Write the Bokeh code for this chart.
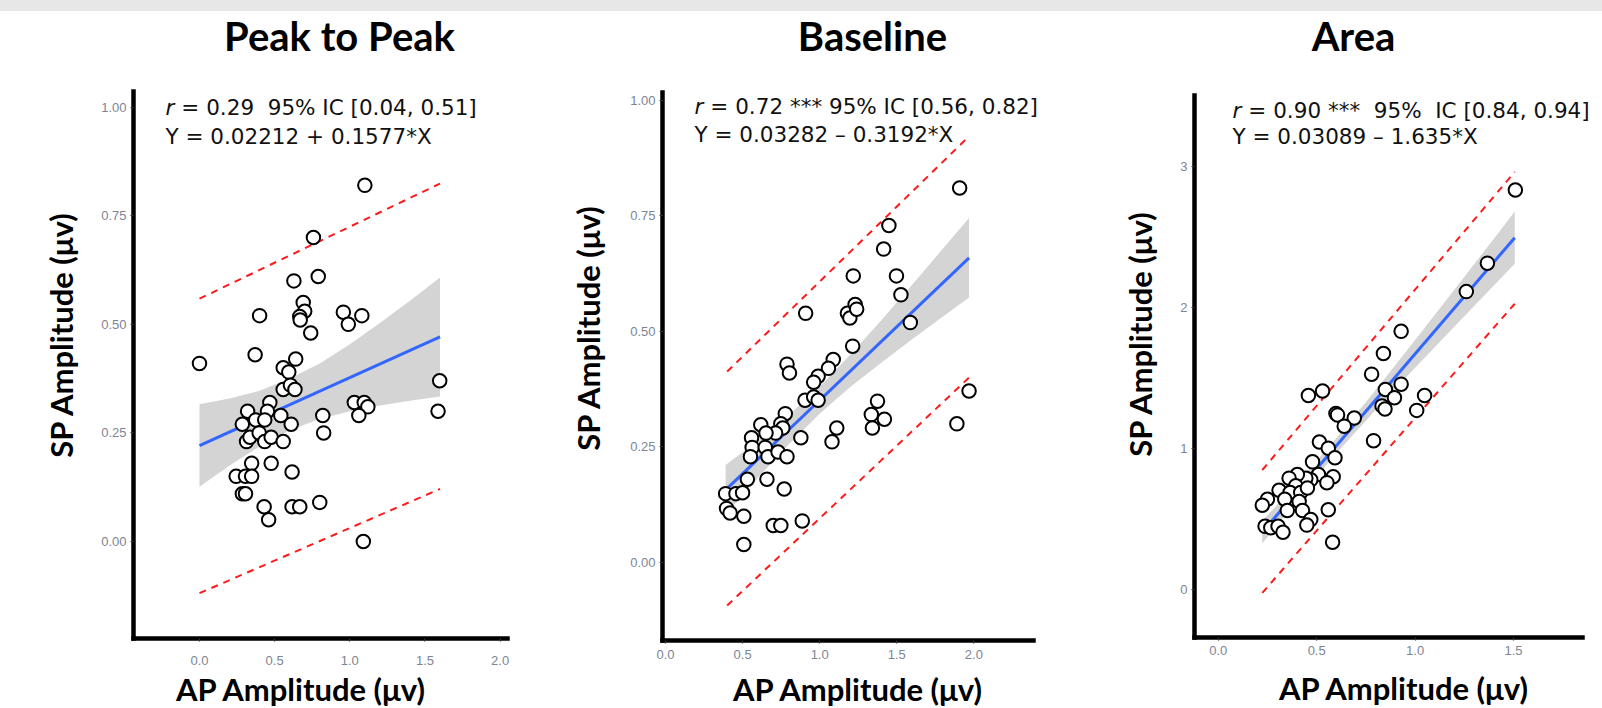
import math
from bokeh.plotting import figure
from bokeh.layouts import row, column
from bokeh.models import Range1d, Label, FixedTicker, PrintfTickFormatter, Div
from bokeh.embed import file_html
from bokeh.resources import INLINE

# ---------------- data ----------------
titles = ["Peak to Peak", "Baseline", "Area"]
x_title = "AP Amplitude (\u03bcv)"
y_title = "SP Amplitude (\u03bcv)"

# Peak to Peak
pp_ap = [0.0, 1.10, 0.758, 0.79, 0.628, 0.40, 0.69, 0.70, 0.667, 0.67, 0.74, 0.957, 0.99, 1.08,
         0.37, 0.557, 0.594, 0.64, 0.557, 0.605, 0.635, 1.598, 1.587, 1.03, 1.096, 1.12, 1.06,
         0.82, 0.826, 0.468, 0.452, 0.32, 0.285, 0.374, 0.434, 0.541, 0.61, 0.313, 0.336, 0.397,
         0.434, 0.477, 0.557, 0.347, 0.477, 0.616, 0.244, 0.306, 0.347, 0.285, 0.306, 0.43, 0.46,
         0.616, 0.667, 0.80, 1.09]
pp_sp = [0.41, 0.82, 0.70, 0.61, 0.60, 0.52, 0.55, 0.53, 0.518, 0.51, 0.48, 0.528, 0.50, 0.52,
         0.43, 0.40, 0.39, 0.42, 0.35, 0.36, 0.35, 0.37, 0.30, 0.32, 0.32, 0.31, 0.29,
         0.29, 0.25, 0.32, 0.30, 0.30, 0.27, 0.28, 0.28, 0.29, 0.27, 0.23, 0.24, 0.25,
         0.23, 0.24, 0.23, 0.18, 0.18, 0.16, 0.15, 0.15, 0.15, 0.11, 0.11, 0.08, 0.05,
         0.08, 0.08, 0.09, 0.00]
pp_fit_x = [0.0, 1.6]
pp_fit_y = [0.221, 0.471]
pp_band_x = [0.0, 0.2, 0.4, 0.6, 0.8, 1.0, 1.2, 1.4, 1.6]
pp_band_hi = [0.316, 0.329, 0.347, 0.375, 0.410, 0.454, 0.503, 0.554, 0.608]
pp_band_lo = [0.126, 0.175, 0.219, 0.256, 0.282, 0.300, 0.313, 0.324, 0.334]
pp_pi_x = [0.0, 1.6]
pp_pi_hi = [0.559, 0.824]
pp_pi_lo = [-0.119, 0.121]

# Baseline
bl_ap = [1.908, 1.449, 1.415, 1.218, 1.498, 1.527, 1.588, 0.909, 1.18, 1.196, 1.23, 1.24, 1.214,
         1.088, 1.057, 0.99, 0.961, 0.905, 0.961, 0.99, 0.788, 0.804, 1.969, 1.89, 1.375, 1.335,
         1.42, 1.342, 1.111, 1.08, 0.878, 0.618, 0.777, 0.748, 0.761, 0.714, 0.652, 0.558, 0.562,
         0.551, 0.647, 0.665, 0.73, 0.788, 0.531, 0.658, 0.77, 0.39, 0.457, 0.50, 0.396, 0.419,
         0.508, 0.699, 0.748, 0.887, 0.508]
bl_sp = [0.81, 0.729, 0.678, 0.62, 0.62, 0.579, 0.519, 0.539, 0.539, 0.529, 0.558, 0.548, 0.468,
         0.439, 0.42, 0.403, 0.39, 0.351, 0.358, 0.351, 0.429, 0.41, 0.371, 0.30, 0.349, 0.32,
         0.31, 0.291, 0.291, 0.261, 0.27, 0.298, 0.322, 0.30, 0.291, 0.28, 0.28, 0.27, 0.249,
         0.229, 0.249, 0.229, 0.239, 0.229, 0.18, 0.18, 0.159, 0.149, 0.149, 0.151, 0.117, 0.107,
         0.10, 0.08, 0.08, 0.09, 0.039]
bl_fit_x = [0.39, 1.969]
bl_fit_y = [0.157, 0.659]
bl_band_x = [0.39, 0.6, 0.8, 1.0, 1.2, 1.4, 1.6, 1.8, 1.969]
bl_band_hi = [0.211, 0.264, 0.319, 0.380, 0.450, 0.524, 0.601, 0.679, 0.745]
bl_band_lo = [0.104, 0.184, 0.256, 0.322, 0.380, 0.432, 0.483, 0.532, 0.573]
bl_pi_x = [0.40, 1.969]
bl_pi_hi = [0.413, 0.922]
bl_pi_lo = [-0.093, 0.400]

# Area
ar_ap = [1.509, 1.367, 1.26, 0.929, 0.839, 0.779, 0.929, 0.849, 0.895, 1.048, 0.832, 0.847, 1.008,
         0.458, 0.53, 0.598, 0.606, 0.691, 0.64, 0.789, 0.514, 0.559, 0.593, 0.479, 0.509, 0.584,
         0.552, 0.47, 0.445, 0.402, 0.36, 0.394, 0.309, 0.365, 0.419, 0.453, 0.25, 0.224, 0.338,
         0.411, 0.351, 0.428, 0.559, 0.47, 0.45, 0.238, 0.267, 0.304, 0.329, 0.581]
ar_sp = [2.833, 2.314, 2.112, 1.83, 1.673, 1.526, 1.455, 1.417, 1.359, 1.375, 1.301, 1.279, 1.269,
         1.375, 1.407, 1.247, 1.237, 1.215, 1.157, 1.054, 1.045, 1.0, 0.933, 0.904, 0.814, 0.798,
         0.756, 0.776, 0.788, 0.814, 0.788, 0.734, 0.702, 0.686, 0.686, 0.718, 0.638, 0.596, 0.638,
         0.622, 0.558, 0.558, 0.564, 0.494, 0.455, 0.446, 0.436, 0.446, 0.404, 0.333]
ar_fit_x = [0.224, 1.506]
ar_fit_y = [0.405, 2.495]
ar_band_x = [0.224, 0.4, 0.6, 0.8, 1.0, 1.2, 1.4, 1.506]
ar_band_hi = [0.485, 0.751, 1.071, 1.414, 1.769, 2.127, 2.488, 2.680]
ar_band_lo = [0.325, 0.633, 0.965, 1.274, 1.572, 1.865, 2.156, 2.310]
ar_pi_x = [0.224, 1.506]
ar_pi_hi = [0.846, 2.962]
ar_pi_lo = [-0.026, 2.026]

stats_r = [" = 0.29  95% IC [0.04, 0.51]",
           " = 0.72 *** 95% IC [0.56, 0.82]",
           " = 0.90 ***  95%  IC [0.84, 0.94]"]
stats_eq = ["Y = 0.02212 + 0.1577*X",
            "Y = 0.03282 \u2013 0.3192*X",
            "Y = 0.03089 \u2013 1.635*X"]

x_ticks = [[0, 0.5, 1.0, 1.5, 2.0], [0, 0.5, 1.0, 1.5, 2.0], [0, 0.5, 1.0, 1.5]]
y_ticks = [[0, 0.25, 0.5, 0.75, 1.0], [0, 0.25, 0.5, 0.75, 1.0], [0, 1, 2, 3]]
y_fmt = ["%.2f", "%.2f", "%d"]

# ---------------- layout (page pixels) ----------------
PAGE_W, PAGE_H = 1602, 708
BAND = 11                     # grey strip at the top of the page
H = PAGE_H - BAND             # figure canvas height
PANELS = [
    dict(cx0=0, cx1=540, left=133, top=91, w=374, h=547,
         xr=(-0.439, 2.049), yr=(-0.2233, 1.036),
         title_c=339, title_b=50, xl_c=300, xl_b=700, yl_c=(60, 335),
         ann=(165, 115, 143.3), xstand=14),
    dict(cx0=540, cx1=1075, left=662, top=92, w=371, h=548,
         xr=(-0.0195, 2.387), yr=(-0.1687, 1.0167),
         title_c=872, title_b=50, xl_c=857, xl_b=700, yl_c=(587, 328),
         ann=(694, 114, 141.7), xstand=6),
    dict(cx0=1075, cx1=1602, left=1194, top=95, w=388, h=542,
         xr=(-0.1204, 1.850), yr=(-0.343, 3.504),
         title_c=1353, title_b=50, xl_c=1403, xl_b=699, yl_c=(1139, 334),
         ann=(1232, 117.3, 143.3), xstand=5),
]
BASE_SHIFT = 0.36   # label anchor sits this many font sizes above the drawn baseline

series = [
    (pp_ap, pp_sp, pp_fit_x, pp_fit_y, pp_band_x, pp_band_hi, pp_band_lo, pp_pi_x, pp_pi_hi, pp_pi_lo),
    (bl_ap, bl_sp, bl_fit_x, bl_fit_y, bl_band_x, bl_band_hi, bl_band_lo, bl_pi_x, bl_pi_hi, bl_pi_lo),
    (ar_ap, ar_sp, ar_fit_x, ar_fit_y, ar_band_x, ar_band_hi, ar_band_lo, ar_pi_x, ar_pi_hi, ar_pi_lo),
]


def nb(s):
    return s.replace(" ", "\u00a0")


TICK_COLOR = "#7d8595"
TITLE_FS, AXT_FS, ANN_FS = 40, 31, 21.5
figs = []
for i, P in enumerate(PANELS):
    ap, sp, fx, fy, bx, bhi, blo, pix, pihi, pilo = series[i]
    x0, x1 = P["xr"]
    y0, y1 = P["yr"]
    ux = (x1 - x0) / P["w"]
    uy = (y1 - y0) / P["h"]
    right = P["left"] + P["w"]
    bottom = P["top"] + P["h"]
    xs = x0 - (P["left"] - P["cx0"]) * ux
    xe = x1 + (P["cx1"] - right) * ux
    ys = y0 - (PAGE_H - bottom) * uy
    ye = y1 + (P["top"] - BAND) * uy

    def to_data(px, py, xs=xs, ye=ye, ux=ux, uy=uy, cx0=P["cx0"]):
        return xs + (px - cx0) * ux, ye - (py - BAND) * uy

    p = figure(width=P["cx1"] - P["cx0"], height=H, min_border=0,
               x_range=Range1d(xs, xe), y_range=Range1d(ys, ye),
               output_backend="svg", toolbar_location=None, tools="")
    p.margin = 0
    p.title.visible = False
    p.outline_line_color = None
    p.background_fill_color = "white"
    p.border_fill_color = "white"
    p.xgrid.visible = False
    p.ygrid.visible = False

    for ax in (p.xaxis[0], p.yaxis[0]):
        ax.axis_line_width = 4.5
        ax.axis_line_color = "black"
        ax.axis_line_cap = "square"
        ax.major_tick_line_color = "#333333"
        ax.major_tick_line_width = 1.2
        ax.major_tick_out = 3
        ax.major_tick_in = 0
        ax.minor_tick_line_color = None
        ax.major_label_text_font = "Liberation Sans"
        ax.major_label_text_font_size = "13px"
        ax.major_label_text_color = TICK_COLOR
    p.xaxis.fixed_location = y0
    p.xaxis.bounds = (x0, x1)
    p.yaxis.fixed_location = x0
    p.yaxis.bounds = (y0, y1)
    p.xaxis.ticker = FixedTicker(ticks=x_ticks[i])
    p.xaxis.formatter = PrintfTickFormatter(format="%.1f")
    p.xaxis.major_label_standoff = P["xstand"]
    p.yaxis.ticker = FixedTicker(ticks=y_ticks[i])
    p.yaxis.formatter = PrintfTickFormatter(format=y_fmt[i])
    p.yaxis.major_label_standoff = 4

    p.varea(x=bx, y1=blo, y2=bhi, fill_color="#d4d4d4", fill_alpha=1.0)
    p.line(pix, pihi, line_color="#ff1a1a", line_width=2, line_dash="7 6")
    p.line(pix, pilo, line_color="#ff1a1a", line_width=2, line_dash="7 6")
    p.line(fx, fy, line_color="#3366ff", line_width=3)
    p.scatter(ap, sp, marker="circle", size=13.5, fill_color="white",
              line_color="black", line_width=2)

    # title
    tx, ty = to_data(P["title_c"], P["title_b"] - BASE_SHIFT * TITLE_FS)
    p.add_layout(Label(x=tx, y=ty, text=nb(titles[i]), text_font="Lato",
                       text_font_style="bold", text_font_size=f"{TITLE_FS}px",
                       text_align="center", text_baseline="alphabetic",
                       text_color="black"))
    # x axis title
    tx, ty = to_data(P["xl_c"], P["xl_b"] - BASE_SHIFT * AXT_FS)
    p.add_layout(Label(x=tx, y=ty, text=nb(x_title), text_font="Lato",
                       text_font_style="bold", text_font_size=f"{AXT_FS}px",
                       text_align="center", text_baseline="alphabetic",
                       text_color="black"))
    # y axis title
    tx, ty = to_data(*P["yl_c"])
    p.add_layout(Label(x=tx, y=ty, text=nb(y_title), text_font="Lato",
                       text_font_style="bold", text_font_size=f"{AXT_FS}px",
                       text_align="center", text_baseline="middle",
                       angle=math.pi / 2, text_color="black"))
    # statistics
    ax_, b1, b2 = P["ann"]
    tx, ty = to_data(ax_, b1 - BASE_SHIFT * ANN_FS)
    p.add_layout(Label(x=tx, y=ty, text="r", text_font="DejaVu Sans",
                       text_font_style="italic", text_font_size=f"{ANN_FS}px",
                       text_baseline="alphabetic", text_color="#111111"))
    p.add_layout(Label(x=tx, y=ty, x_offset=9, text=nb(stats_r[i]), text_font="DejaVu Sans",
                       text_font_size=f"{ANN_FS}px", text_baseline="alphabetic",
                       text_color="#111111"))
    tx, ty = to_data(ax_, b2 - BASE_SHIFT * ANN_FS)
    p.add_layout(Label(x=tx, y=ty, text=nb(stats_eq[i]), text_font="DejaVu Sans",
                       text_font_size=f"{ANN_FS}px", text_baseline="alphabetic",
                       text_color="#111111"))
    figs.append(p)

strip = Div(text="", width=PAGE_W, height=BAND, margin=0,
            styles={"background-color": "#e7e7e7"})
layout = column(strip, row(*figs, spacing=0), spacing=0)
open("out.html", "w").write(file_html(layout, INLINE))
